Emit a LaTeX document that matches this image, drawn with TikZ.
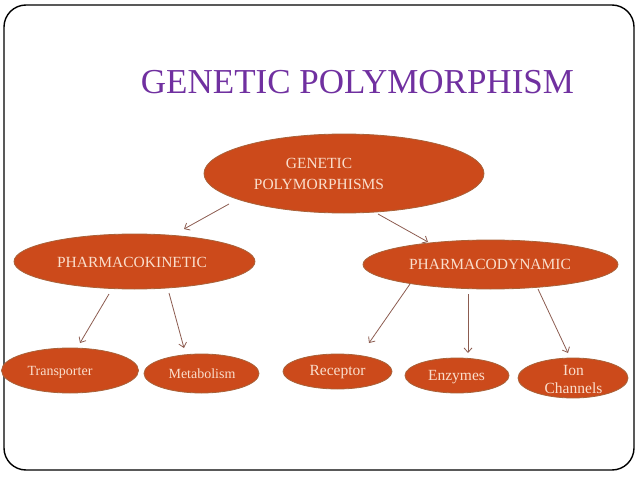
\documentclass[tikz,border=0pt]{standalone}
\usepackage{fontspec}
\setmainfont{Liberation Serif}
\usetikzlibrary{shapes.geometric,arrows.meta}
\definecolor{ovfill}{RGB}{204,74,27}
\definecolor{ovline}{RGB}{168,98,58}
\definecolor{ovtext}{RGB}{250,222,204}
\definecolor{titlecol}{RGB}{112,48,160}
\definecolor{arrcol}{RGB}{140,92,80}
\tikzset{
  oval/.style={ellipse, fill=ovfill, draw=ovline, line width=0.8pt, inner sep=0pt},
  ovaltext/.style={text=ovtext, align=center, inner sep=0pt, font=\fontsize{15.5}{21}\selectfont},
  smalltext/.style={text=ovtext, align=center, inner sep=0pt, font=\fontsize{14}{17}\selectfont},
  midtext/.style={text=ovtext, align=center, inner sep=0pt, font=\fontsize{15.5}{18}\selectfont},
  arr/.style={draw=arrcol, line width=0.8pt, -{Straight Barb[length=4.5pt,width=8pt]}}
}
\begin{document}
\begin{tikzpicture}[x=1pt,y=-1pt]
\useasboundingbox (0,0) rectangle (638,479);
\draw[line width=1.4pt, rounded corners=22pt] (4,5) rectangle (634,470);
\node[text=titlecol, inner sep=0pt, anchor=base, font=\fontsize{35}{40}\selectfont] (title) at (357.5,93) {GENETIC POLYMORPHISM};
% ovals
\node[oval, minimum width=280pt, minimum height=79pt] (gp) at (344,173.5) {};
\node[ovaltext] (gpt) at (319,174) {GENETIC\\POLYMORPHISMS};
\node[oval, minimum width=241pt, minimum height=55pt] (pk) at (134.5,261.5) {};
\node[ovaltext] (pkt) at (132,262) {PHARMACOKINETIC};
\node[oval, minimum width=255pt, minimum height=49pt] (pd) at (490.5,264.5) {};
\node[ovaltext] (pdt) at (490,264.5) {PHARMACODYNAMIC};
\node[oval, minimum width=137pt, minimum height=45pt] (tr) at (70,370.5) {};
\node[smalltext] (trt) at (60,372.5) {Transporter};
\node[oval, minimum width=115pt, minimum height=39pt] (me) at (201.5,373.5) {};
\node[smalltext] (met) at (202,373.5) {Metabolism};
\node[oval, minimum width=109pt, minimum height=35pt] (re) at (337.5,371.5) {};
\node[midtext] (ret) at (337.5,372) {Receptor};
\node[oval, minimum width=104pt, minimum height=35pt] (en) at (457,375.5) {};
\node[midtext] (ent) at (456.5,377) {Enzymes};
\node[oval, minimum width=110pt, minimum height=40pt] (io) at (573,378) {};
\node[midtext] (iot) at (573.5,379) {Ion\\Channels};
% arrow ends
\coordinate (a1s) at (229,204); \coordinate (a1e) at (184,229);
\coordinate (a2s) at (378,214); \coordinate (a2e) at (428,242);
\coordinate (a3s) at (109,294); \coordinate (a3e) at (80,343);
\coordinate (a4s) at (169,293); \coordinate (a4e) at (184,348);
\coordinate (a5s) at (410,284); \coordinate (a5e) at (369,343);
\coordinate (a6s) at (468,294); \coordinate (a6e) at (468,353);
\coordinate (a7s) at (538,289); \coordinate (a7e) at (568,353);
\draw[arr] (a1s) -- (a1e);
\draw[arr] (a2s) -- (a2e);
\draw[arr] (a3s) -- (a3e);
\draw[arr] (a4s) -- (a4e);
\draw[arr] (a5s) -- (a5e);
\draw[arr] (a6s) -- (a6e);
\draw[arr] (a7s) -- (a7e);
\end{tikzpicture}
\end{document}
